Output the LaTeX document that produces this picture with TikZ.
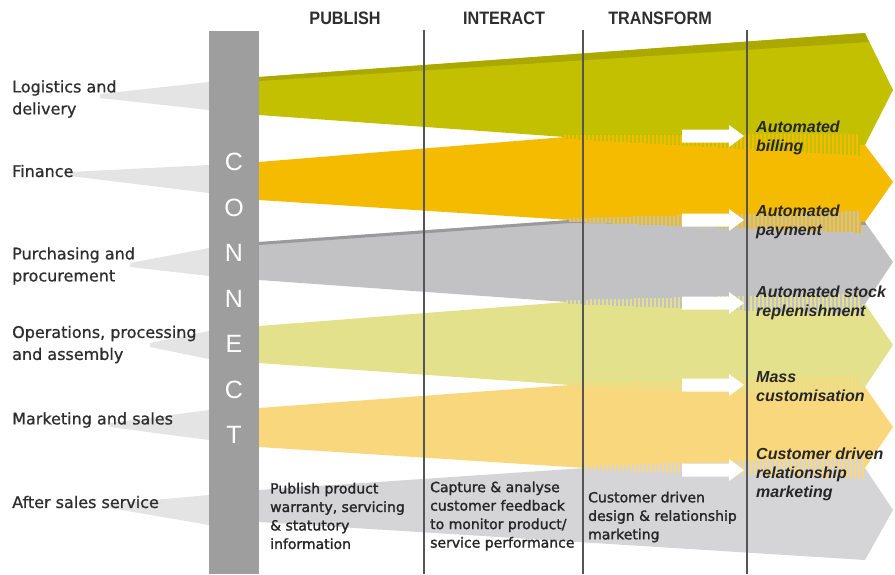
\documentclass[tikz,border=0pt]{standalone}
\usepackage{fontspec}
\setmainfont{DejaVu Sans}
\newfontfamily\headfont[FakeStretch=0.9]{Liberation Sans}
\newfontfamily\outfont{Liberation Sans}
\newfontfamily\rowfont[FakeBold=0.8]{DejaVu Sans}
\newfontfamily\stagefont[FakeBold=1.5]{DejaVu Sans}
\usetikzlibrary{positioning}

\definecolor{bandolive}{HTML}{C2C000}
\definecolor{bandolivedark}{HTML}{ABA900}
\definecolor{bandorange}{HTML}{F5BB00}
\definecolor{bandgray}{HTML}{C2C2C4}
\definecolor{bandgraydark}{HTML}{9A9A9C}
\definecolor{bandpaleolive}{HTML}{E4E18C}
\definecolor{bandpaleorange}{HTML}{F9D77C}
\definecolor{bandlightgray}{HTML}{D5D5D7}
\definecolor{barfill}{HTML}{9E9E9E}
\definecolor{wedgegray}{HTML}{E4E4E4}
\definecolor{linegray}{HTML}{555555}
\definecolor{labelgray}{HTML}{2E2E2E}

\tikzset{
  rowlabel/.style={anchor=west, align=left, inner sep=0pt, text=labelgray,
    font=\rowfont\fontsize{16}{22}\selectfont},
  header/.style={inner sep=0pt, text=labelgray,
    font=\headfont\bfseries\fontsize{18}{20}\selectfont},
  letter/.style={inner sep=0pt, text=white, font=\outfont\fontsize{25}{25}\selectfont},
  outcome/.style={anchor=west, align=left, inner sep=0pt, text=black!85,
    font=\outfont\bfseries\itshape\fontsize{16}{19}\selectfont},
  stage/.style={anchor=west, align=left, inner sep=0pt, text=black!85,
    font=\stagefont\fontsize{14}{18.5}\selectfont},
  phase/.style={draw=linegray, line width=1.3pt},
}

\begin{document}
\begin{tikzpicture}[x=1pt, y=-1pt]
  \useasboundingbox (0,0) rectangle (895,574);

  % grey wedges from the row labels to the bar
  \fill[wedgegray] (100,94) -- (209,82) -- (209,110) -- (100,98) -- cycle;
  \fill[wedgegray] (70,172) -- (209,165) -- (209,193) -- (70,176) -- cycle;
  \fill[wedgegray] (130,263) -- (209,248) -- (209,276) -- (130,267) -- cycle;
  \fill[wedgegray] (150,343) -- (209,331) -- (209,359) -- (150,347) -- cycle;
  \fill[wedgegray] (110,423) -- (209,410) -- (209,440) -- (110,427) -- cycle;
  \fill[wedgegray] (110,504) -- (209,495) -- (209,525) -- (110,508) -- cycle;

  % connect bar
  \fill[barfill] (209,31) rectangle (259,574);

  % bands
  \fill[bandolive] (259,77) -- (865,33) -- (893,90) -- (865,145) -- (565,137) -- (259,115) -- cycle;
  \fill[bandolivedark] (259,77) -- (865,33) -- (869,42) -- (259,81) -- cycle;
  \fill[bandorange] (259,162) -- (565,137) -- (865,145) -- (893,182) -- (865,222) -- (570,220) -- (259,200) -- cycle;
  \fill[bandgray] (259,242) -- (570,220) -- (865,222) -- (893,262) -- (865,304) -- (567,302) -- (259,280) -- cycle;
  \fill[bandgraydark] (259,242) -- (570,220) -- (865,222) -- (866,225) -- (570,223) -- (259,245) -- cycle;
  \fill[bandpaleolive] (259,326) -- (567,302) -- (865,304) -- (893,345) -- (865,387) -- (570,385) -- (259,363) -- cycle;
  \fill[bandpaleorange] (259,408) -- (570,385) -- (865,387) -- (893,427) -- (865,468) -- (585,468) -- (259,447) -- cycle;
  \fill[bandlightgray] (259,490) -- (585,468) -- (865,468) -- (893,510) -- (865,560) -- (259,522) -- cycle;

  % stripes where two bands merge
  \foreach \xm/\ym/\yn/\cu/\cl in {565/137/145/bandolive/bandorange,
      570/220/222/bandorange/bandgray, 567/302/304/bandgray/bandpaleolive,
      570/385/387/bandpaleolive/bandpaleorange, 585/468/468/bandpaleorange/bandlightgray}{
    \foreach \k in {0,...,73}{
      \pgfmathsetmacro\xx{\xm+\k*4}
      \pgfmathtruncatemacro\ok{\xx<862 ? 1 : 0}
      \ifnum\ok=1
        \pgfmathsetmacro\yy{\ym+(\yn-\ym)*(\xx-\xm)/(865-\xm)}
        \pgfmathsetmacro\hh{2+9*(\xx-\xm)/(865-\xm)}
        \draw[\cl, line width=1.6pt] (\xx,\yy-\hh) -- (\xx,\yy+\hh);
        \draw[\cu, line width=1.6pt] (\xx+2,\yy-\hh) -- (\xx+2,\yy+\hh);
      \fi
    }
  }

  % phase lines
  \foreach \x in {424,583,747}
    \draw[phase] (\x,30) -- (\x,574);

  % white arrows
  \foreach \y in {136,220,303,385,470}
    \fill[white] (682,\y-6.5) -- (729,\y-6.5) -- (729,\y-11) -- (744,\y)
      -- (729,\y+11) -- (729,\y+6.5) -- (682,\y+6.5) -- cycle;

  % headers
  \node[header] (publish) at (345,18) {PUBLISH};
  \node[header] (interact) at (504,18) {INTERACT};
  \node[header] (transform) at (660,18) {TRANSFORM};

  % connect letters
  \foreach \ch [count=\i from 0] in {C,O,N,N,E,C,T}
    \node[letter] (letter\i) at (234,162+45.5*\i) {\ch};

  % row labels
  \node[rowlabel] (logistics) at (12,99) {Logistics and\\delivery};
  \node[rowlabel] (finance) at (12,171) {Finance};
  \node[rowlabel] (purchasing) at (12,266) {Purchasing and\\procurement};
  \node[rowlabel] (operations) at (12,344.5) {Operations, processing\\and assembly};
  \node[rowlabel] (marketing) at (12,420) {Marketing and sales};
  \node[rowlabel] (aftersales) at (12,502) {After sales service};

  % outcomes
  \node[outcome] (billing) at (756,137.5) {Automated\\billing};
  \node[outcome] (payment) at (756,221.5) {Automated\\payment};
  \node[outcome] (stock) at (756,302.5) {Automated stock\\replenishment};
  \node[outcome] (mass) at (756,387) {Mass\\customisation};
  \node[outcome] (relation) at (756,474) {Customer driven\\relationship\\marketing};

  % stage texts
  \node[stage] (publishtext) at (270,516) {Publish product\\warranty, servicing\\\& statutory\\information};
  \node[stage] (capturetext) at (430,516) {Capture \& analyse\\customer feedback\\to monitor product/\\service performance};
  \node[stage] (designtext) at (588,517) {Customer driven\\design \& relationship\\marketing};
\end{tikzpicture}
\end{document}
